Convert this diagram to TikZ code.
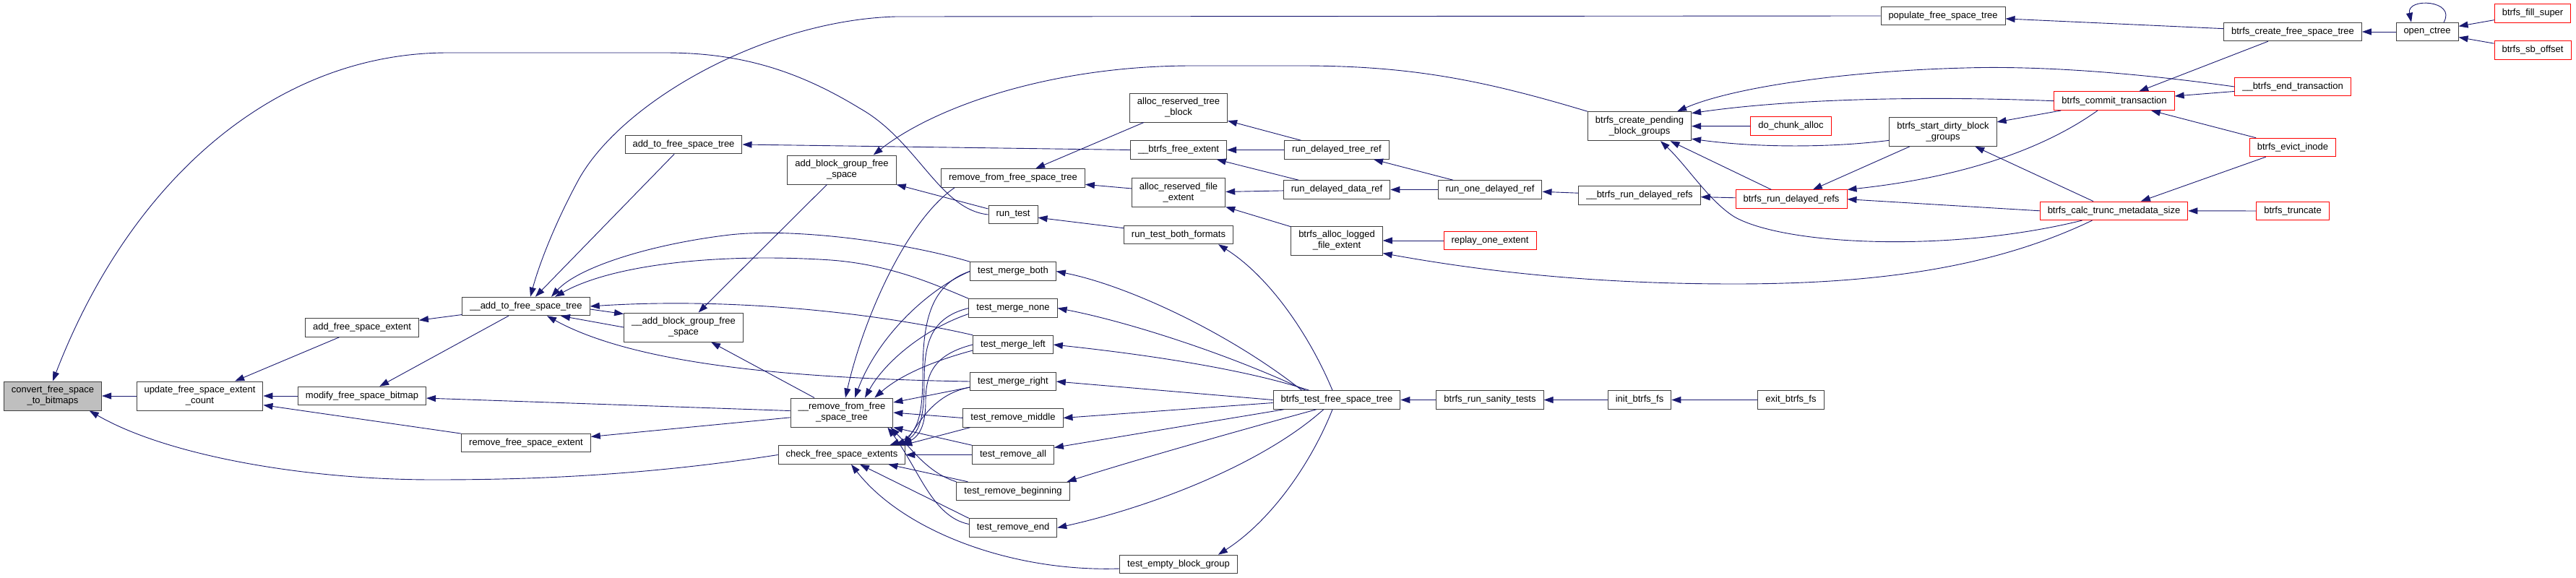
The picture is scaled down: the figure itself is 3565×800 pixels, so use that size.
\documentclass[tikz,border=0pt]{standalone}
\usepackage{fontspec}
\setmainfont{Liberation Sans}
\usetikzlibrary{arrows.meta, calc}
\definecolor{cEdge}{HTML}{191970}
\definecolor{cBox}{HTML}{404040}
\definecolor{cCur}{HTML}{BFBFBF}
\definecolor{cRed}{HTML}{FF0000}
\tikzset{
    x=1pt, y=-1pt,
    fn/.style={draw=cBox, line width=1pt, fill=white, inner xsep=10.5pt,
               inner ysep=2pt, minimum height=25.5pt,
               font=\fontsize{13}{15}\selectfont},
    fn2/.style={fn, align=center, minimum height=40pt},
    ext/.style={draw=cRed},
    cur/.style={fill=cCur},
    edge/.style={-{Triangle[length=13pt, width=9pt]}, line width=0.9pt, cEdge},
}

\begin{document}
\begin{tikzpicture}
    \useasboundingbox (0,0) rectangle (3565,800);

    \node[fn2, cur] (conv) at (73,548) {convert\_free\_space\\\_to\_bitmaps};
    \node[fn2] (upd) at (276.5,548) {update\_free\_space\_extent\\\_count};
    \node[fn] (addext) at (501,453.5) {add\_free\_space\_extent};
    \node[fn] (modbm) at (501,548) {modify\_free\_space\_bitmap};
    \node[fn] (addtree) at (728,424) {\_\_add\_to\_free\_space\_tree};
    \node[fn] (remext) at (728,613) {remove\_free\_space\_extent};
    \node[fn] (addfst) at (946,200) {add\_to\_free\_space\_tree};
    \node[fn2] (addbg) at (946,453) {\_\_add\_block\_group\_free\\\_space};
    \node[fn2] (addbgfs) at (1165,235) {add\_block\_group\_free\\\_space};
    \node[fn2] (remtree) at (1165,571) {\_\_remove\_from\_free\\\_space\_tree};
    \node[fn] (chk) at (1165,629.5) {check\_free\_space\_extents};

    \node[fn] (remfst) at (1402,246.5) {remove\_from\_free\_space\_tree};
    \node[fn] (runtest) at (1402,297) {run\_test};
    \node[fn] (tmboth) at (1402,375.5) {test\_merge\_both};
    \node[fn] (tmnone) at (1402,426.5) {test\_merge\_none};
    \node[fn] (tmleft) at (1402,477) {test\_merge\_left};
    \node[fn] (tmright) at (1402,528) {test\_merge\_right};
    \node[fn] (trmid) at (1402,578.5) {test\_remove\_middle};
    \node[fn] (trall) at (1402,629.5) {test\_remove\_all};
    \node[fn] (trbeg) at (1402,680) {test\_remove\_beginning};
    \node[fn] (trend) at (1402,730.5) {test\_remove\_end};

    \node[fn2] (artb) at (1631,149) {alloc\_reserved\_tree\\\_block};
    \node[fn] (bfe) at (1631,207.5) {\_\_btrfs\_free\_extent};
    \node[fn2] (arfe) at (1631,266.7) {alloc\_reserved\_file\\\_extent};
    \node[fn] (rtbf) at (1631,325) {run\_test\_both\_formats};
    \node[fn] (tempty) at (1631,781) {test\_empty\_block\_group};

    \node[fn] (rdtr) at (1850,207.5) {run\_delayed\_tree\_ref};
    \node[fn] (rddr) at (1850,262.5) {run\_delayed\_data\_ref};
    \node[fn2] (balfe) at (1850,333) {btrfs\_alloc\_logged\\\_file\_extent};
    \node[fn] (btfst) at (1850,553.5) {btrfs\_test\_free\_space\_tree};
    \node[fn] (rodr) at (2062,262.5) {run\_one\_delayed\_ref};
    \node[fn, ext] (replay) at (2062,333) {replay\_one\_extent};
    \node[fn] (sanity) at (2062,553.5) {btrfs\_run\_sanity\_tests};
    \node[fn2] (cpbg) at (2269,174.7) {btrfs\_create\_pending\\\_block\_groups};
    \node[fn] (brdr) at (2269,270.5) {\_\_btrfs\_run\_delayed\_refs};
    \node[fn] (initfs) at (2269,553.5) {init\_btrfs\_fs};
    \node[fn, ext] (chunk) at (2478.5,174.5) {do\_chunk\_alloc};
    \node[fn, ext] (rdrefs) at (2479,275.7) {btrfs\_run\_delayed\_refs};
    \node[fn] (exitfs) at (2478.5,553.5) {exit\_btrfs\_fs};

    \node[fn] (populate) at (2689,22) {populate\_free\_space\_tree};
    \node[fn2] (sdbg) at (2689,182.3) {btrfs\_start\_dirty\_block\\\_groups};
    \node[fn, ext] (commit) at (2926,139.7) {btrfs\_commit\_transaction};
    \node[fn, ext] (calctrunc) at (2925.5,291.8) {btrfs\_calc\_trunc\_metadata\_size};
    \node[fn] (cfst) at (3173,44) {btrfs\_create\_free\_space\_tree};
    \node[fn, ext] (endtrans) at (3173,120) {\_\_btrfs\_end\_transaction};
    \node[fn, ext] (evict) at (3173,204) {btrfs\_evict\_inode};
    \node[fn, ext] (truncate) at (3173,292) {btrfs\_truncate};
    \node[fn] (openct) at (3359,44) {open\_ctree};
    \node[fn, ext] (fillsup) at (3505,18.3) {btrfs\_fill\_super};
    \node[fn, ext] (sboff) at (3505,69.5) {btrfs\_sb\_offset};

    % callers on the right, arrow tip on the callee
    \draw[edge] (upd) -- (conv);
    \draw[edge] (modbm) -- (upd);
    \draw[edge] (addext) -- (upd);
    \draw[edge] (remext) -- (upd);
    \draw[edge] (addtree) -- (addext);
    \draw[edge] (addtree) -- (modbm);
    \draw[edge] (remtree) -- (modbm);
    \draw[edge] (remtree) -- (remext);
    \draw[edge] (chk.west) .. controls (880,660) and (720,664) .. (600,664)
        .. controls (420,664) and (230,630) .. (conv.-22);
    \draw[edge] (runtest.west) .. controls (1300,290) and (1270,195) .. (1190,150)
        .. controls (1100,95) and (1020,73) .. (920,73) -- (620,73)
        .. controls (380,73) and (180,250) .. (conv.north);
    \draw[edge] (populate.west) -- (1240,23) .. controls (1060,28) and (860,140) .. (800,250)
        .. controls (765,315) and (745,370) .. ($(addtree.north)+(6,0)$);
    \draw[edge] (addfst) -- (addtree);
    \draw[edge] (tmboth.north west) .. controls (1250,335) and (1100,315) .. (1010,325)
        .. controls (900,338) and (800,370) .. ($(addtree.north)+(35,0)$);
    \draw[edge] (tmnone.north west) .. controls (1290,392) and (1230,366) .. (1150,360)
        .. controls (1000,350) and (850,365) .. ($(addtree.north)+(40,0)$);
    \draw[edge] (tmleft.north west) .. controls (1200,430) and (1000,412) .. (addtree.east);
    \draw[edge] (tmright.west) .. controls (1100,524) and (880,505) .. ($(addtree.south)+(29,0)$);
    \draw[edge] (addbg.west) -- ($(addtree.south)+(48,0)$);
    \draw[edge] ($(addtree.east)+(0,4)$) -- ($(addbg.north west)+(0,2)$);
    \draw[edge] (remtree) -- (addbg);
    \draw[edge] (addbgfs) -- (addbg);
    \draw[edge] (bfe.west) -- (addfst.east);
    \draw[edge] (cpbg.north west) .. controls (2050,110) and (1950,91) .. (1800,91) -- (1650,91)
        .. controls (1450,91) and (1290,150) .. ($(addbgfs.north east)+(-32,0)$);
    \draw[edge] ($(runtest.west)+(0,-8)$) -- (addbgfs.south east);
    \draw[edge] ($(remfst.south west)+(19,0)$) .. controls (1255,305) and (1195,440)
        .. ($(remtree.north)+(5,0)$);
    \draw[edge] (artb) -- (remfst);
    \draw[edge] (arfe) -- (remfst);
    \draw[edge] (rtbf) -- (runtest);

    \draw[edge] ($(btfst.north)+(-6,0)$) .. controls (1815,470) and (1760,385)
        .. ($(rtbf.south east)+(-21,0)$);
    \draw[edge] ($(btfst.north west)+(40,0)$) .. controls (1700,460) and (1560,395) .. (tmboth.east);
    \draw[edge] ($(btfst.north west)+(45,0)$) .. controls (1700,490) and (1560,445) .. (tmnone.east);
    \draw[edge] ($(btfst.north west)+(50,0)$) .. controls (1720,510) and (1580,490) .. (tmleft.east);
    \draw[edge] (btfst.west) -- (tmright.east);
    \draw[edge] ($(btfst.west)+(0,4)$) -- (trmid.east);
    \draw[edge] ($(btfst.south west)+(15,0)$) -- ($(trall.east)+(0,-10)$);
    \draw[edge] ($(btfst.south west)+(60,0)$) .. controls (1700,600) and (1560,640)
        .. ($(trbeg.north east)+(-4,0)$);
    \draw[edge] ($(btfst.south west)+(70,0)$) .. controls (1750,640) and (1600,700) .. (trend.east);
    \draw[edge] ($(btfst.south)+(-6,0)$) .. controls (1815,640) and (1760,720)
        .. ($(tempty.north east)+(-27,0)$);

    \draw[edge] (tmboth.west) .. controls (1285,400) and (1215,465) .. ($(remtree.north)+(18,0)$);
    \draw[edge] (tmboth.west) .. controls (1285,395) and (1277,450) .. (1277,520)
        .. controls (1277,580) and (1268,603) .. ($(chk.north east)+(-22,0)$);
    \draw[edge] ($(tmnone.west)+(0,8)$) .. controls (1280,455) and (1225,500) .. ($(remtree.north)+(32,0)$);
    \draw[edge] (tmnone.west) .. controls (1285,440) and (1279,480) .. (1279,530)
        .. controls (1279,585) and (1270,603) .. ($(chk.north east)+(-14,0)$);
    \draw[edge] ($(tmleft.west)+(0,8)$) .. controls (1290,500) and (1245,520)
        .. ($(remtree.north east)+(-26,0)$);
    \draw[edge] (tmleft.west) .. controls (1295,490) and (1281,515) .. (1281,555)
        .. controls (1281,590) and (1272,605) .. ($(chk.north east)+(-8,0)$);
    \draw[edge] ($(tmright.west)+(0,8)$) -- ($(remtree.east)+(0,-14)$);
    \draw[edge] ($(tmright.west)+(0,8)$) .. controls (1295,545) and (1275,580)
        .. ($(chk.north east)+(-3,0)$);
    \draw[edge] (trmid.west) -- (remtree.east);
    \draw[edge] ($(trmid.south west)+(10,0)$) -- ($(chk.north east)+(-4,0)$);
    \draw[edge] (trall.north west) -- (remtree.south east);
    \draw[edge] (trall.west) -- (chk.east);
    \draw[edge] ($(trbeg.north west)+(16,0)$) -- ($(chk.south east)+(-24,0)$);
    \draw[edge] (trbeg.north west) .. controls (1285,655) and (1262,622) .. ($(remtree.south east)+(-4,0)$);
    \draw[edge] (trend.north west) -- ($(chk.south)+(25,0)$);
    \draw[edge] ($(trend.west)+(0,-5)$) .. controls (1290,715) and (1272,650)
        .. ($(remtree.south east)+(-8,0)$);
    \draw[edge] ($(tempty.west)+(0,6)$) .. controls (1400,792) and (1250,735) .. ($(chk.south)+(13,0)$);

    \draw[edge] (rdtr) -- (artb);
    \draw[edge] (rdtr) -- (bfe);
    \draw[edge] (rddr) -- (bfe);
    \draw[edge] (rddr) -- (arfe);
    \draw[edge] (balfe) -- (arfe);
    \draw[edge] (rodr) -- (rdtr);
    \draw[edge] (rodr) -- (rddr);
    \draw[edge] (replay) -- (balfe);
    \draw[edge] (brdr) -- (rodr);
    \draw[edge] (rdrefs) -- (brdr);
    \draw[edge] ($(calctrunc.south)+(-30,0)$) .. controls (2760,370) and (2600,393) .. (2400,393)
        .. controls (2200,393) and (2050,375) .. ($(balfe.south east)+(0,-3)$);
    \draw[edge] ($(calctrunc.south)+(-44,0)$) .. controls (2700,350) and (2470,340) .. (2400,300)
        .. controls (2365,278) and (2335,230) .. ($(cpbg.south)+(29,0)$);
    \draw[edge] (rdrefs) -- (cpbg);
    \draw[edge] (commit.west) .. controls (2650,132) and (2470,138) .. ($(cpbg.east)+(0,-18)$);
    \draw[edge] (endtrans.west) .. controls (2950,100) and (2820,91) .. (2720,94)
        .. controls (2560,98) and (2400,120) .. ($(cpbg.north east)+(-20,0)$);
    \draw[edge] (chunk) -- (cpbg);
    \draw[edge] ($(sdbg.west)+(0,12)$) .. controls (2520,206) and (2420,203)
        .. ($(cpbg.south east)+(0,-3)$);
    \draw[edge] (sdbg) -- (rdrefs);
    \draw[edge] ($(commit.south)+(-23,0)$) .. controls (2830,205) and (2720,245) .. (rdrefs.north east);
    \draw[edge] (calctrunc.west) -- (rdrefs.east);
    \draw[edge] (commit) -- (sdbg);
    \draw[edge] (calctrunc) -- (sdbg);
    \draw[edge] (cfst) -- (populate);
    \draw[edge] (cfst) -- (commit);
    \draw[edge] (endtrans) -- (commit);
    \draw[edge] (evict) -- (commit);
    \draw[edge] (evict) -- (calctrunc);
    \draw[edge] (truncate) -- (calctrunc);
    \draw[edge] (openct) -- (cfst);
    \draw[edge] (fillsup) -- (openct);
    \draw[edge] (sboff) -- (openct);
    \draw[edge] ($(openct.north)+(23,0)$) .. controls (3400,0) and (3330,-4) .. ($(openct.north)+(-22,0)$);
    \draw[edge] (sanity) -- (btfst);
    \draw[edge] (initfs) -- (sanity);
    \draw[edge] (exitfs) -- (initfs);
\end{tikzpicture}
\end{document}
